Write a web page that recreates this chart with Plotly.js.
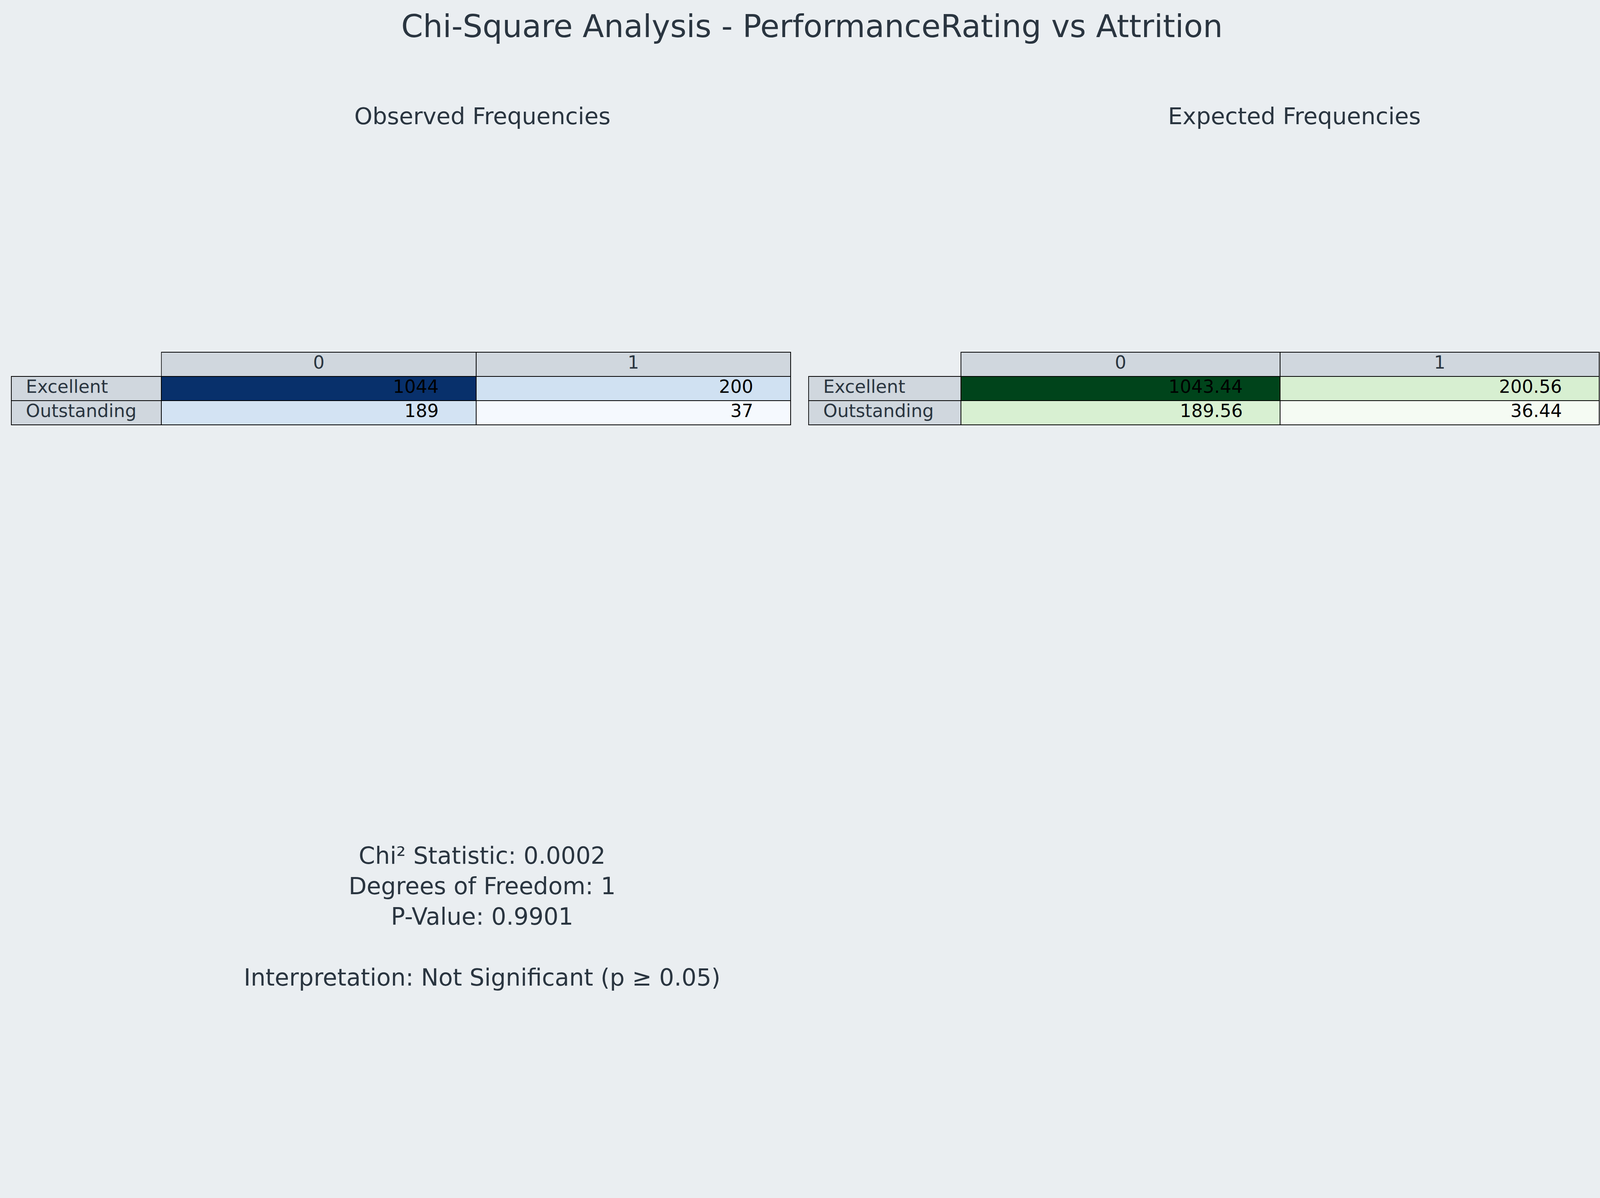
<!DOCTYPE html>
<html>
<head>
<meta charset="utf-8">
<script src="https://cdn.plot.ly/plotly-3.0.1.min.js"></script>
<style>html,body{margin:0;padding:0;background:#eaeef1;}</style>
</head>
<body>
<div id="chart" style="width:4157px;height:3068px;"></div>
<script>
const rowLabels = ['Excellent', 'Outstanding'];
const colLabels = ['0', '1'];
const observed0 = [1044, 189];
const observed1 = [200, 37];
const expected0 = ['1043.44', '189.56'];
const expected1 = ['200.56', '36.44'];
const obsColors0 = ['#08306b', '#d3e3f3'];
const obsColors1 = ['#d0e1f2', '#f5f9fe'];
const expColors0 = ['#00441b', '#d8f0d2'];
const expColors1 = ['#d7efd1', '#f5fbf3'];
const chi2 = '0.0002';
const dof = 1;
const pValue = '0.9901';

const font = 'DejaVu Sans, sans-serif';
const headFill = '#d0d7de';
const clear = 'rgba(0,0,0,0)';
const pad = '\u00a0\u00a0\u00a0\u00a0\u00a0\u00a0';

function makeTable(xDomain, col0, col1, fill0, fill1) {
  return {
    type: 'table',
    domain: { x: xDomain, y: [0.3, 0.706] },
    columnwidth: [147, 308, 308],
    header: {
      values: ['', colLabels[0], colLabels[1]],
      align: 'center',
      height: 62,
      fill: { color: [clear, headFill, headFill] },
      line: { color: [clear, 'black', 'black'], width: 2 },
      font: { family: font, size: 46, color: '#2a3540' },
    },
    cells: {
      values: [rowLabels, col0, col1],
      align: ['left', 'right', 'right'],
      prefix: ['\u00a0\u00a0', '', ''],
      suffix: ['', pad, pad],
      height: 62,
      fill: { color: [[headFill, headFill], fill0, fill1] },
      line: { color: 'black', width: 2 },
      font: { family: font, size: 46, color: ['#2a3540', 'black', 'black'] },
    },
  };
}

const data = [
  makeTable([0.007, 0.487], observed0, observed1, obsColors0, obsColors1),
  makeTable([0.498, 0.985], expected0, expected1, expColors0, expColors1),
];

const layout = {
  width: 4157,
  height: 3068,
  margin: { l: 0, r: 0, t: 0, b: 0 },
  paper_bgcolor: '#eaeef1',
  font: { family: font, color: '#2a3540' },
  title: {
    text: 'Chi-Square Analysis - PerformanceRating vs Attrition',
    font: { size: 80, family: font, color: '#2a3540' },
    x: 0.5, xanchor: 'center', y: 0.978, yanchor: 'middle',
  },
  annotations: [
    { text: 'Observed Frequencies', x: 0.297, y: 0.915, xref: 'paper', yref: 'paper',
      xanchor: 'center', showarrow: false, font: { size: 59 } },
    { text: 'Expected Frequencies', x: 0.797, y: 0.915, xref: 'paper', yref: 'paper',
      xanchor: 'center', showarrow: false, font: { size: 59 } },
    { text: 'Chi² Statistic: ' + chi2 + '<br>Degrees of Freedom: ' + dof +
        '<br>P-Value: ' + pValue + '<br><br>Interpretation: Not Significant (p ≥ 0.05)',
      x: 0.297, y: 0.172, xref: 'paper', yref: 'paper', align: 'center',
      xanchor: 'center', showarrow: false, font: { size: 60 } },
  ],
};

Plotly.newPlot('chart', data, layout, { displayModeBar: false });
</script>
</body>
</html>
